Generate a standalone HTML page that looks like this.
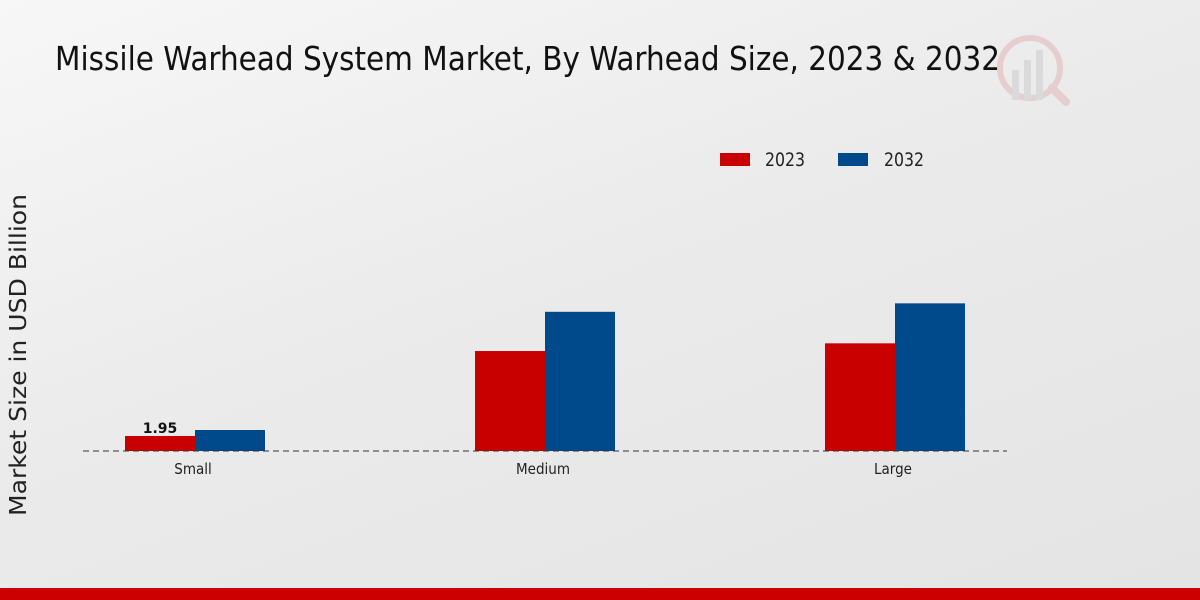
<!DOCTYPE html>
<html><head><meta charset="utf-8">
<style>
html,body{margin:0;padding:0;width:1200px;height:600px;overflow:hidden}
body{background:linear-gradient(160deg,#f7f7f7 0%,#ebebeb 45%,#e4e4e4 100%);font-family:"Liberation Sans",sans-serif;position:relative}
svg{position:absolute;left:0;top:0}
</style></head>
<body>
<svg id="chart" width="1200" height="600">
  <text x="55" y="70" font-family="'Liberation Sans Narrow','DejaVu Sans Condensed','Liberation Sans',sans-serif" font-size="33" fill="#111" textLength="945" lengthAdjust="spacingAndGlyphs">Missile Warhead System Market, By Warhead Size, 2023 &amp; 2032</text>
  <g opacity="0.35">
    <circle cx="1030" cy="68" r="30" fill="none" stroke="#d99" stroke-width="6"/>
    <rect x="1012" y="70" width="7" height="30" fill="#bbb"/>
    <rect x="1024" y="60" width="7" height="40" fill="#bbb"/>
    <rect x="1036" y="50" width="7" height="50" fill="#bbb"/>
    <line x1="1052" y1="88" x2="1066" y2="102" stroke="#d99" stroke-width="8" stroke-linecap="round"/>
  </g>
  <text transform="translate(26,355) rotate(-90)" text-anchor="middle" font-family="'DejaVu Sans',sans-serif" font-size="23" fill="#222" textLength="322" lengthAdjust="spacingAndGlyphs">Market Size in USD Billion</text>
  <g font-family="'Liberation Sans Narrow','DejaVu Sans Condensed',sans-serif" font-size="19" fill="#222">
    <rect x="720" y="153" width="30" height="13" fill="#c80000"/>
    <text x="765" y="166" textLength="40" lengthAdjust="spacingAndGlyphs">2023</text>
    <rect x="838" y="153" width="30" height="13" fill="#004a8c"/>
    <text x="884" y="166" textLength="40" lengthAdjust="spacingAndGlyphs">2032</text>
  </g>
  <g id="bars"></g>
  <line x1="83" y1="451" x2="1007" y2="451" stroke="#333" stroke-width="1" stroke-dasharray="6,4"/>
  <g id="ticks"></g>
  <rect x="0" y="588" width="1200" height="12" fill="#cc0000"/>
</svg>
<script>
const categories = ["Small","Medium","Large"];
const values2023 = [1.95, 13.0, 14.0];
const values2032 = [2.73, 18.1, 19.2];
const labels2023 = ["1.95", "", ""];

const NS = "http://www.w3.org/2000/svg";
const baseY = 451, pxPerUnit = 7.69, firstCenter = 195, spacing = 350, barW = 70;
function xCenter(i){ return firstCenter + i*spacing; }
function yScale(v){ return baseY - v*pxPerUnit; }
const bars = document.getElementById('bars');
const ticks = document.getElementById('ticks');
function mk(tag, attrs){ const e=document.createElementNS(NS,tag); for(const k in attrs) e.setAttribute(k,attrs[k]); return e; }
categories.forEach((c,i)=>{
  const cx = xCenter(i);
  const r1 = mk('rect',{x:cx-barW,y:yScale(values2023[i]),width:barW,height:baseY-yScale(values2023[i]),fill:'#c80000'});
  
  
  bars.appendChild(r1);
  const r2 = mk('rect',{x:cx,y:yScale(values2032[i]),width:barW,height:baseY-yScale(values2032[i]),fill:'#004a8c'});
  
  
  bars.appendChild(r2);
  if(labels2023[i]){
    const t = mk('text',{x:cx-barW/2,y:yScale(values2023[i])-3,'text-anchor':'middle','font-family':"'DejaVu Sans',sans-serif",'font-size':'14','font-weight':'bold',fill:'#111'});
    t.textContent = labels2023[i];
    
    
    bars.appendChild(t);
  }
  const tl = mk('text',{x:cx-2,y:474,'text-anchor':'middle','font-family':"'DejaVu Sans Condensed','Liberation Sans Narrow',sans-serif",'font-size':'15',fill:'#222'});
  tl.textContent = c;
  
  
  ticks.appendChild(tl);
});
</script>
</body></html>
